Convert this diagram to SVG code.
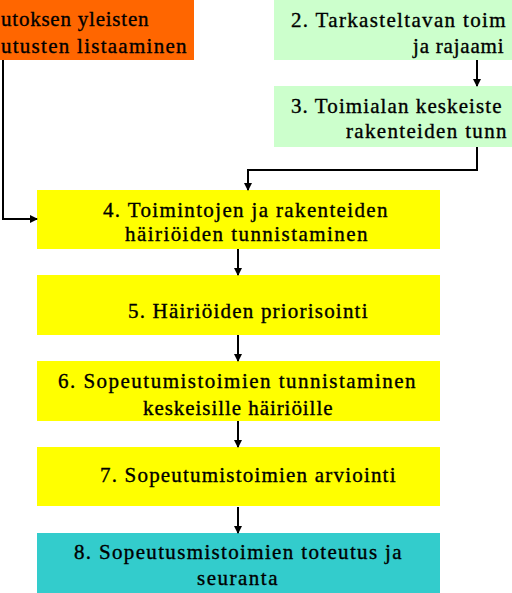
<svg xmlns="http://www.w3.org/2000/svg" width="512" height="593" viewBox="0 0 512 593">
<style>
text{font-family:"Liberation Serif","DejaVu Serif","Times New Roman",serif;font-size:21px;fill:#000;stroke:#000;stroke-width:0.35;letter-spacing:1.5px}
.c{stroke:#000;stroke-width:2;fill:none}
</style>
<defs>
<marker id="ah" markerWidth="8" markerHeight="8" refX="7" refY="4" orient="auto" markerUnits="userSpaceOnUse">
<path d="M0,0 L8,4 L0,8 Z" fill="#000"/>
</marker>
</defs>
<rect width="512" height="593" fill="#fff"/>
<g id="n1">
<rect x="0" y="0" width="194" height="60" fill="#FF6600"/>
<text x="1" y="26" textLength="149" lengthAdjust="spacing">utoksen yleisten</text>
<text x="1" y="53" textLength="187" lengthAdjust="spacing">utusten listaaminen</text>
</g>
<g id="n2">
<rect x="274" y="0" width="238" height="60" fill="#CCFFCC"/>
<text x="291" y="27" textLength="216" lengthAdjust="spacing">2. Tarkasteltavan toim</text>
<text x="413" y="53" textLength="92" lengthAdjust="spacing">ja rajaami</text>
</g>
<g id="n3">
<rect x="274" y="86" width="238" height="61" fill="#CCFFCC"/>
<text x="291" y="113" textLength="212" lengthAdjust="spacing">3. Toimialan keskeiste</text>
<text x="346" y="138" textLength="162" lengthAdjust="spacing">rakenteiden tunn</text>
</g>
<g id="n4">
<rect x="37" y="190" width="403" height="59" fill="#FFFF00"/>
<text x="103" y="217" textLength="286" lengthAdjust="spacing">4. Toimintojen ja rakenteiden</text>
<text x="125" y="241" textLength="244" lengthAdjust="spacing">häiriöiden tunnistaminen</text>
</g>
<g id="n5">
<rect x="37" y="275" width="403" height="60" fill="#FFFF00"/>
<text x="128" y="318" textLength="241" lengthAdjust="spacing">5. Häiriöiden priorisointi</text>
</g>
<g id="n6">
<rect x="37" y="361" width="403" height="60" fill="#FFFF00"/>
<text x="58" y="388" textLength="359" lengthAdjust="spacing">6. Sopeutumistoimien tunnistaminen</text>
<text x="143" y="415" textLength="191" lengthAdjust="spacing">keskeisille häiriöille</text>
</g>
<g id="n7">
<rect x="37" y="447" width="403" height="59" fill="#FFFF00"/>
<text x="100" y="482" textLength="297" lengthAdjust="spacing">7. Sopeutumistoimien arviointi</text>
</g>
<g id="n8">
<rect x="37" y="533" width="403" height="60" fill="#33CCCC"/>
<text x="74" y="559" textLength="329" lengthAdjust="spacing">8. Sopeutusmistoimien toteutus ja</text>
<text x="197" y="585" textLength="82" lengthAdjust="spacing">seuranta</text>
</g>
<g id="connectors">
<path class="c" d="M3,60 V219 H37" marker-end="url(#ah)"/>
<path class="c" d="M477,60 V86" marker-end="url(#ah)"/>
<path class="c" d="M477,147 V170 H248 V190" marker-end="url(#ah)"/>
<path class="c" d="M238,249 V275" marker-end="url(#ah)"/>
<path class="c" d="M238,335 V361" marker-end="url(#ah)"/>
<path class="c" d="M238,421 V447" marker-end="url(#ah)"/>
<path class="c" d="M238,507 V533" marker-end="url(#ah)"/>
</g>
</svg>
